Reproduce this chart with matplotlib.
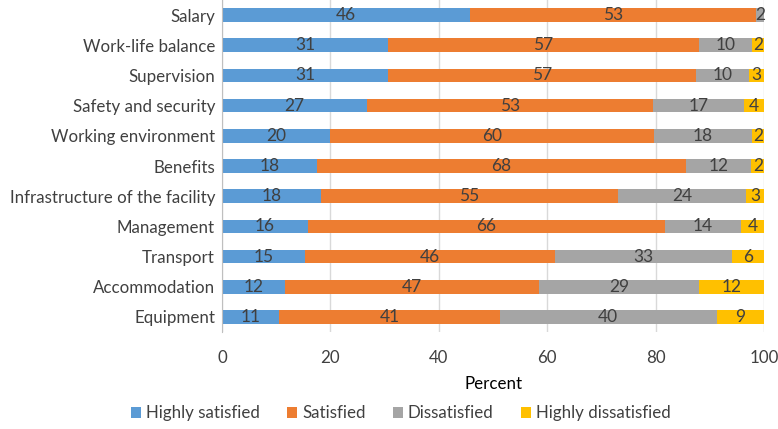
import numpy as np
import matplotlib.pyplot as plt

plt.rcParams['font.family'] = ['Lato', 'DejaVu Sans']

factors = ['Salary', 'Work-life balance', 'Supervision', 'Safety and security',
           'Working environment', 'Benefits', 'Infrastructure of the facility',
           'Management', 'Transport', 'Accommodation', 'Equipment']
highly_satisfied = [45.8, 30.6, 30.6, 26.8, 20.0, 17.6, 18.2, 15.9, 15.3, 11.6, 10.6]
satisfied = [52.6, 57.3, 56.8, 52.6, 59.6, 67.9, 54.8, 65.8, 46.2, 46.9, 40.6]
dissatisfied = [1.6, 9.8, 9.8, 16.9, 18.1, 12.1, 23.7, 14.0, 32.6, 29.4, 40.0]
highly_dissatisfied = [0.0, 2.3, 2.8, 3.7, 2.3, 2.4, 3.3, 4.3, 5.9, 12.1, 8.8]

series = [('Highly satisfied', highly_satisfied, '#5B9BD5'),
          ('Satisfied', satisfied, '#ED7D31'),
          ('Dissatisfied', dissatisfied, '#A5A5A5'),
          ('Highly dissatisfied', highly_dissatisfied, '#FFC000')]

fig = plt.figure(figsize=(7.78, 4.29), dpi=100)
ax = fig.add_axes([0.2853, 0.226, 0.697, 0.774])

y = np.arange(len(factors))
left = np.zeros(len(factors))
for name, vals, col in series:
    vals = np.array(vals)
    ax.barh(y, vals, left=left, height=0.45, color=col, label=name, zorder=2)
    for yi, l, v in zip(y, left, vals):
        if v > 0:
            ax.text(l + v / 2, yi, f'{round(v):d}', ha='center', va='center',
                    fontsize=12.5, color='#404040', zorder=3)
    left += vals

ax.set_ylim(len(factors) - 0.5, -0.5)
ax.set_xlim(0, 100)
ax.set_yticks(y)
ax.set_yticklabels(factors)
ax.set_xticks(np.arange(0, 101, 20))
ax.tick_params(axis='both', length=0, labelsize=12.2, labelcolor='#404040', pad=5)
ax.tick_params(axis='x', pad=13)
ax.grid(axis='x', color='#D9D9D9', linewidth=1, zorder=0)
for s in ['top', 'right', 'bottom']:
    ax.spines[s].set_visible(False)
ax.spines['left'].set_color('#BFBFBF')
ax.set_xlabel('Percent', fontsize=12.2, color='black', labelpad=7)

fig.legend(loc='lower center', bbox_to_anchor=(0.515, -0.018), ncol=4, frameon=False,
           fontsize=12.2, handlelength=0.6, handleheight=0.6, handletextpad=0.3,
           columnspacing=1.6, labelcolor='#404040')

fig.savefig('out.png', dpi=100)
